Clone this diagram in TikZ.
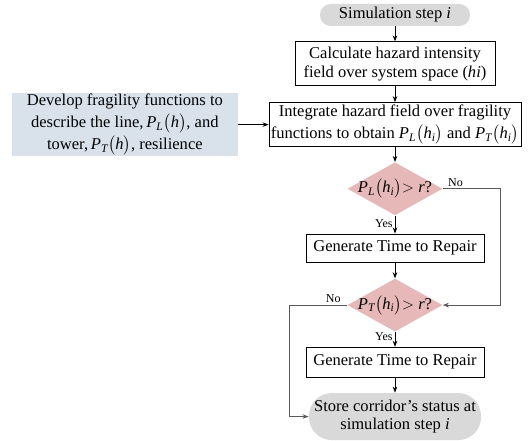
\documentclass[tikz,border=0pt]{standalone}
\usepackage{amsmath}
\usepackage{fontspec}
\setmainfont{Liberation Serif}
\definecolor{pinkd}{HTML}{E6B8B7}
\definecolor{bluef}{HTML}{D9E1EB}
\definecolor{greyp}{HTML}{D9D9D9}
\usetikzlibrary{arrows.meta,positioning,shapes.geometric}
\newcommand{\fsz}{\fontsize{12.4}{14}\selectfont}
\newcommand{\fszm}{\fontsize{12.4}{16.75}\selectfont}
\newcommand{\prob}[2]{$\textit{P}_{\textit{#1}}\bigl(\textit{#2}\bigr)$}
\tikzset{
  >={Stealth[length=1.6mm]},
  box/.style={draw=black,line width=0.6pt,inner sep=2pt,font=\fsz,align=center},
  pill/.style={box,draw=none,fill=greyp},
  dia/.style={diamond,fill=pinkd,inner sep=0pt,minimum width=71.25pt,minimum height=39.75pt,font=\fsz},
  lab/.style={font=\fontsize{9}{10}\selectfont,inner sep=1.5pt},
  arr/.style={->,draw=black,line width=0.6pt},
  larr/.style={arr,draw=black!65},
}
\begin{document}
\begin{tikzpicture}
\useasboundingbox (0,0) rectangle (399pt,-330.75pt);
\node[pill,rounded corners=8pt,minimum width=112.5pt,minimum height=16.5pt] (start) at (296.25pt,-11.25pt) {Simulation step \textit{i}};
\node[box,minimum width=150pt,minimum height=33pt,below=11.25pt of start] (calc) {Calculate hazard intensity\\field over system space (\textit{hi})};
\node[box,minimum width=189pt,minimum height=33pt,inner sep=0.5pt,font=\fontsize{12.4}{17}\selectfont,below=12pt of calc] (integ) {Integrate hazard field over fragility\\functions to obtain \prob{L}{h$_{\textit{i}}$} and \prob{T}{h$_{\textit{i}}$}};
\node[box,draw=none,fill=bluef,minimum width=169pt,minimum height=47pt,inner sep=0.5pt,font=\fszm,left=23pt of integ] (frag) {Develop fragility functions to\\describe the line,\,\prob{L}{h}, and\\tower,\,\prob{T}{h}, resilience};
\node[dia,below=11.25pt of integ] (chkL) {\makebox[0pt]{\prob{L}{h$_{\textit{i}}$}$>$ \textit{r}?}};
\node[box,minimum width=133.5pt,minimum height=21pt,below=13.5pt of chkL] (repL) {Generate Time to Repair};
\node[dia,below=12pt of repL] (chkT) {\makebox[0pt]{\prob{T}{h$_{\textit{i}}$}$>$ \textit{r}?}};
\node[box,minimum width=133.5pt,minimum height=22.5pt,below=11.25pt of chkT] (repT) {Generate Time to Repair};
\node[pill,rounded corners=17pt,minimum width=129pt,minimum height=35.25pt,below=11.25pt of repT] (store) {Store corridor’s status at\\simulation step \textit{i}};
\draw[arr] (start)--(calc); \draw[arr] (calc)--(integ); \draw[arr] (frag)--(integ); \draw[arr] (integ)--(chkL);
\draw[arr] (chkL)-- node[lab,left,pos=0.45] {Yes} (repL); \draw[arr] (repL)--(chkT);
\draw[arr] (chkT)-- node[lab,left,pos=0.35] {Yes} (repT); \draw[arr] (repT)--(store);
\draw[larr] (chkL.east)-- node[lab,above,pos=0.22] {No} ++(43.5pt,0) |- (chkT.east);
\draw[larr] (chkT.west)-- node[lab,above,pos=0.24] {No} ++(-43.5pt,0) |- (store.west);
\end{tikzpicture}
\end{document}
